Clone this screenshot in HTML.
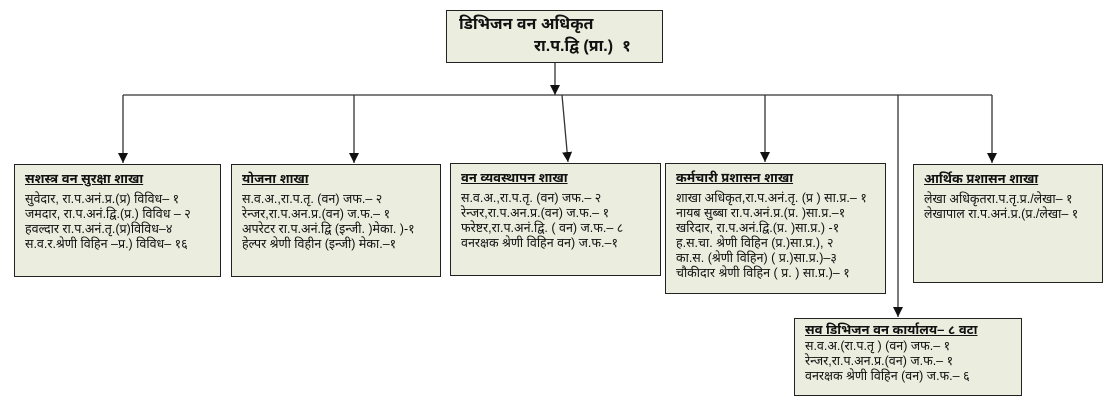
<!DOCTYPE html>
<html><head><meta charset="utf-8"><style>
body{margin:0;width:1108px;height:402px;background:#fff;position:relative;overflow:hidden;font-family:"Liberation Sans","Noto Sans Devanagari","Lohit Devanagari",sans-serif;color:#111}
.b{position:absolute;background:#ebeedf;border:1.5px solid #222;box-sizing:border-box;font-size:12.5px;line-height:15px;padding:6px 10px;white-space:nowrap}
.b u{font-weight:bold;display:block;margin-bottom:6px;font-size:13px}
svg{position:absolute;left:0;top:0}
</style></head><body>
<svg width="1108" height="402">
<defs><marker id="a" markerWidth="10" markerHeight="10" refX="10" refY="5" orient="auto" markerUnits="userSpaceOnUse"><path d="M0,0 L10,5 L0,10z" fill="#111"/></marker></defs>
<g stroke="#333" stroke-width="1.3" fill="none">
<line x1="555" y1="62" x2="555" y2="95" marker-end="url(#a)"/>
<line x1="123" y1="95" x2="992" y2="95"/>
<line x1="123" y1="95" x2="123" y2="163" marker-end="url(#a)"/>
<line x1="354" y1="95" x2="354" y2="163" marker-end="url(#a)"/>
<line x1="562" y1="95" x2="568" y2="162" marker-end="url(#a)"/>
<line x1="765" y1="95" x2="765" y2="162" marker-end="url(#a)"/>
<line x1="992" y1="95" x2="992" y2="163" marker-end="url(#a)"/>
<line x1="898" y1="95" x2="898" y2="317" marker-end="url(#a)"/>
</g></svg>
<div class="b" style="left:446px;top:10px;width:217px;height:53px;font-size:16px;line-height:22px;font-weight:bold;padding:3px 12px">डिभिजन वन अधिकृत<br><span style="padding-left:75px">रा.प.द्वि (प्रा.)&nbsp; १</span></div>
<div class="b" style="left:14px;top:164px;width:207px;height:113px"><u>सशस्त्र वन सुरक्षा शाखा</u>सुवेदार, रा.प.अनं.प्र.(प्र) विविध– १<br>जमदार, रा.प.अनं.द्वि.(प्र.) विविध – २<br>हवल्दार रा.प.अनं.तृ.(प्र)विविध–४<br>स.व.र.श्रेणी विहिन –प्र.) विविध– १६</div>
<div class="b" style="left:231px;top:164px;width:210px;height:113px"><u>योजना शाखा</u>स.व.अ.,रा.प.तृ. (वन) जफ.– २<br>रेन्जर,रा.प.अन.प्र.(वन) ज.फ.– १<br>अपरेटर रा.प.अनं.द्वि (इन्जी. )मेका. )-१<br>हेल्पर श्रेणी विहीन (इन्जी) मेका.–१</div>
<div class="b" style="left:450px;top:163px;width:211px;height:113px"><u>वन व्यवस्थापन शाखा</u>स.व.अ.,रा.प.तृ. (वन) जफ.– २<br>रेन्जर,रा.प.अन.प्र.(वन) ज.फ.– १<br>फरेष्टर,रा.प.अनं.द्वि. ( वन) ज.फ.– ८<br>वनरक्षक श्रेणी विहिन वन) ज.फ.–१</div>
<div class="b" style="left:665px;top:163px;width:221px;height:131px"><u>कर्मचारी प्रशासन शाखा</u>शाखा अधिकृत,रा.प.अनं.तृ. (प्र ) सा.प्र.– १<br>नायब सुब्बा रा.प.अनं.प्र.(प्र. )सा.प्र.–१<br>खरिदार, रा.प.अनं.द्वि.(प्र. )सा.प्र.) -१<br>ह.स.चा. श्रेणी विहिन (प्र.)सा.प्र.), २<br>का.स. (श्रेणी विहिन) ( प्र.)सा.प्र.)–३<br>चौकीदार श्रेणी विहिन ( प्र. ) सा.प्र.)– १</div>
<div class="b" style="left:913px;top:164px;width:190px;height:119px"><u>आर्थिक प्रशासन शाखा</u>लेखा अधिकृतरा.प.तृ.प्र./लेखा– १<br>लेखापाल रा.प.अनं.प्र.(प्र./लेखा– १</div>
<div class="b" style="left:794px;top:318px;width:228px;height:78px;padding-top:3px"><u style="margin-bottom:2px">सव डिभिजन वन कार्यालय– ८ वटा</u>स.व.अ.(रा.प.तृ ) (वन) जफ.– १<br>रेन्जर,रा.प.अन.प्र.(वन) ज.फ.– १<br>वनरक्षक श्रेणी विहिन (वन) ज.फ.– ६</div>
</body></html>
